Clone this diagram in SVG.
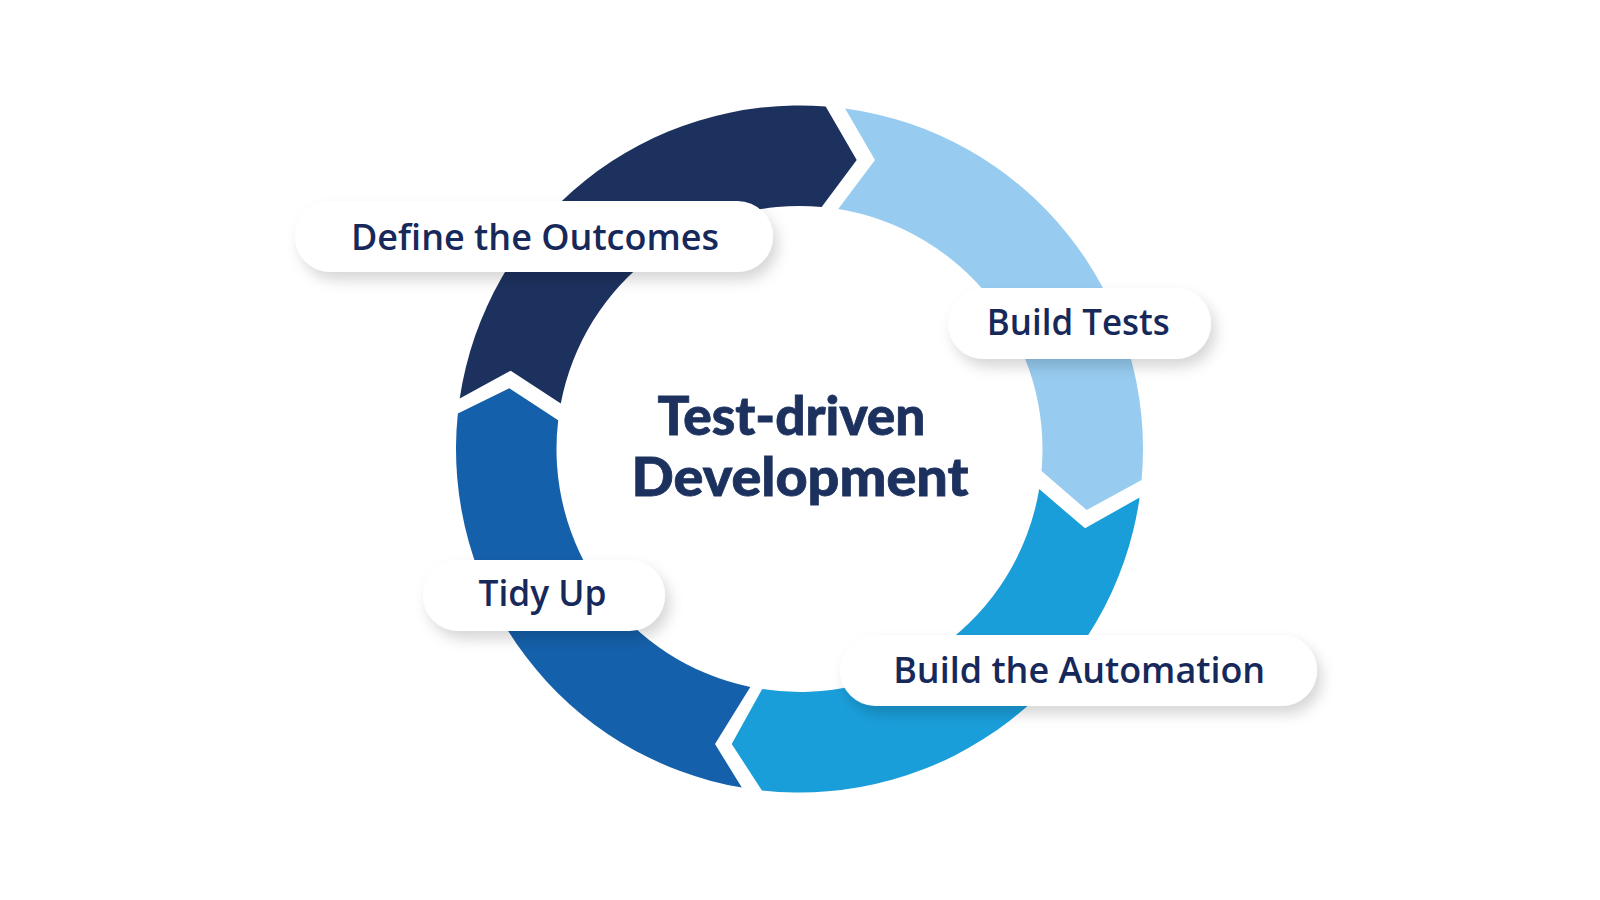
<svg xmlns="http://www.w3.org/2000/svg" width="1600" height="900" viewBox="0 0 1600 900">
  <defs>
    <filter id="shadow" x="-20%" y="-50%" width="140%" height="220%">
      <feDropShadow dx="5" dy="8" stdDeviation="7" flood-color="#000000" flood-opacity="0.16"/>
    </filter>
    <style>
      .pill { fill: #ffffff; filter: url(#shadow); }
      .label { font-family: "Open Sans", "Noto Sans", "Liberation Sans", sans-serif; font-weight: 600; font-size: 36px; fill: #17295A; text-anchor: middle; }
      .title { font-family: Lato, "Liberation Sans", sans-serif; font-weight: 900; font-size: 54px; fill: #1C315E; stroke: #1C315E; stroke-width: 0.8; text-anchor: middle; }
    </style>
  </defs>
  <rect width="1600" height="900" fill="#ffffff"/>

  <g id="connectors">
    <path id="seg-define" fill="#1C315E" d="M 459.7 398.5 A 343.5 343.5 0 0 1 825.7 106.5 L 856.7 160 L 821.65 207.0 A 243 243 0 0 0 560.8 403.5 L 510.7 370.7 Z"/>
    <path id="seg-tests" fill="#97CCF0" d="M 845.1 108.5 A 343.5 343.5 0 0 1 1141.6 480.0 L 1086.7 510 L 1041.5 471.0 A 243 243 0 0 0 838.2 209.1 L 875 160 Z"/>
    <path id="seg-automation" fill="#1A9ED9" d="M 1139.6 497.5 A 343.5 343.5 0 0 1 761.9 790.4 L 731.7 744 L 762.2 689.1 A 243 243 0 0 0 1039.2 489.1 L 1085 528.3 Z"/>
    <path id="seg-tidy" fill="#1560AA" d="M 741.8 787.6 A 343.5 343.5 0 0 1 457.85 413.4 L 509.3 388.3 L 558.2 420.2 A 243 243 0 0 0 750.3 687.0 L 715 744 Z"/>
  </g>

  <g id="title">
    <text class="title" x="791.5" y="435" textLength="268" lengthAdjust="spacingAndGlyphs">Test-driven</text>
    <text class="title" x="800" y="496" textLength="337" lengthAdjust="spacingAndGlyphs">Development</text>
  </g>

  <g id="node-define">
    <rect class="pill" x="295" y="201" width="478" height="71" rx="35.5"/>
    <text class="label" x="535" y="250" textLength="368" lengthAdjust="spacingAndGlyphs">Define the Outcomes</text>
  </g>
  <g id="node-tests">
    <rect class="pill" x="948" y="288" width="263" height="71" rx="35.5"/>
    <text class="label" x="1078.3" y="335" textLength="183" lengthAdjust="spacingAndGlyphs">Build Tests</text>
  </g>
  <g id="node-tidy">
    <rect class="pill" x="423" y="560" width="242" height="71" rx="35.5"/>
    <text class="label" x="542.5" y="606" textLength="128" lengthAdjust="spacingAndGlyphs">Tidy Up</text>
  </g>
  <g id="node-automation">
    <rect class="pill" x="840" y="635" width="477" height="71" rx="35.5"/>
    <text class="label" x="1079.2" y="683" textLength="372" lengthAdjust="spacingAndGlyphs">Build the Automation</text>
  </g>
</svg>
